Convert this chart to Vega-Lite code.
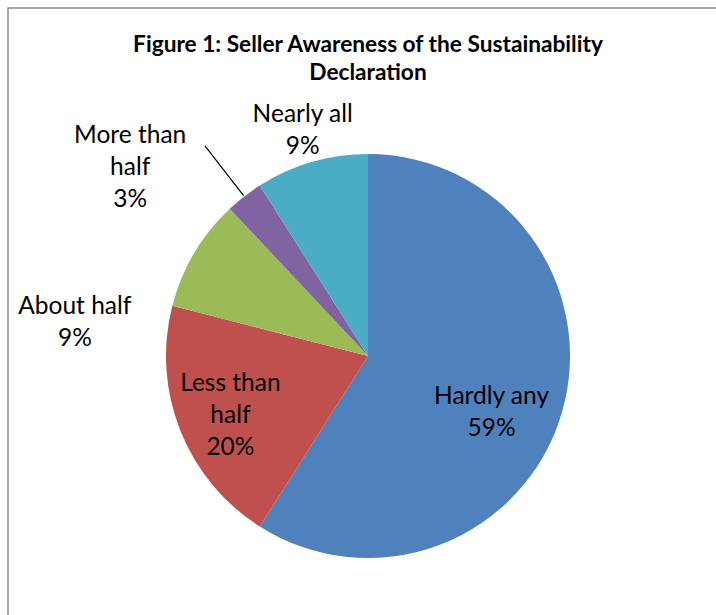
{
  "$schema": "https://vega.github.io/schema/vega-lite/v6.json",
  "autosize": {"type": "none"},
  "padding": {"left": 8, "top": 8, "right": 0, "bottom": 0},
  "width": 720,
  "height": 696,
  "background": "white",
  "view": {"stroke": "#8c8c8c", "strokeWidth": 1.5},
  "title": {
    "text": ["Figure 1: Seller Awareness of the Sustainability", "Declaration"],
    "font": "Lato",
    "fontSize": 22.7,
    "fontWeight": "bold",
    "color": "black",
    "lineHeight": 28,
    "anchor": "middle",
    "frame": "group",
    "orient": "top",
    "offset": -77
  },
  "data": {
    "values": [
      {"category": "Hardly any", "value": 59, "rank": 1, "lines": ["Hardly any", "59%"]},
      {"category": "Less than half", "value": 20, "rank": 2, "lines": ["Less than", "half", "20%"]},
      {"category": "About half", "value": 9, "rank": 3, "lines": ["About half", "9%"]},
      {"category": "More than half", "value": 3, "rank": 4, "lines": ["More than", "half", "3%"]},
      {"category": "Nearly all", "value": 9, "rank": 5, "lines": ["Nearly all", "9%"]}
    ]
  },
  "encoding": {
    "theta": {"field": "value", "type": "quantitative", "stack": true},
    "order": {"field": "rank", "type": "quantitative"}
  },
  "layer": [
    {
      "mark": {"type": "arc", "outerRadius": 202},
      "encoding": {
        "color": {
          "field": "category",
          "type": "nominal",
          "scale": {
            "domain": ["Hardly any", "Less than half", "About half", "More than half", "Nearly all"],
            "range": ["#4F81BD", "#C0504D", "#9BBB59", "#8064A2", "#4BACC6"]
          },
          "legend": null
        }
      }
    },
    {
      "mark": {"type": "arc", "radius": 266, "radius2": 203, "padAngle": 1.2, "strokeWidth": 1.2, "fill": null},
      "encoding": {
        "stroke": {"condition": {"test": "datum.category === 'More than half'", "value": "black"}, "value": null}
      }
    },
    {
      "mark": {"type": "text", "radius": 136, "thetaOffset": 0.148, "dy": -16, "font": "Lato", "fontSize": 24.5, "lineHeight": 32, "color": "black"},
      "encoding": {"text": {"condition": {"test": "datum.category === 'Hardly any'", "field": "lines"}, "value": ""}}
    },
    {
      "mark": {"type": "text", "radius": 150, "thetaOffset": -0.033, "dy": -32, "font": "Lato", "fontSize": 24.5, "lineHeight": 32, "color": "black"},
      "encoding": {"text": {"condition": {"test": "datum.category === 'Less than half'", "field": "lines"}, "value": ""}}
    },
    {
      "mark": {"type": "text", "radius": 295, "thetaOffset": -0.422, "dy": -16, "font": "Lato", "fontSize": 24.5, "lineHeight": 32, "color": "black"},
      "encoding": {"text": {"condition": {"test": "datum.category === 'About half'", "field": "lines"}, "value": ""}}
    },
    {
      "mark": {"type": "text", "radius": 303, "thetaOffset": -0.243, "dy": -32, "font": "Lato", "fontSize": 24.5, "lineHeight": 32, "color": "black"},
      "encoding": {"text": {"condition": {"test": "datum.category === 'More than half'", "field": "lines"}, "value": ""}}
    },
    {
      "mark": {"type": "text", "radius": 234, "thetaOffset": 0, "dy": -16, "font": "Lato", "fontSize": 24.5, "lineHeight": 32, "color": "black"},
      "encoding": {"text": {"condition": {"test": "datum.category === 'Nearly all'", "field": "lines"}, "value": ""}}
    }
  ]
}
